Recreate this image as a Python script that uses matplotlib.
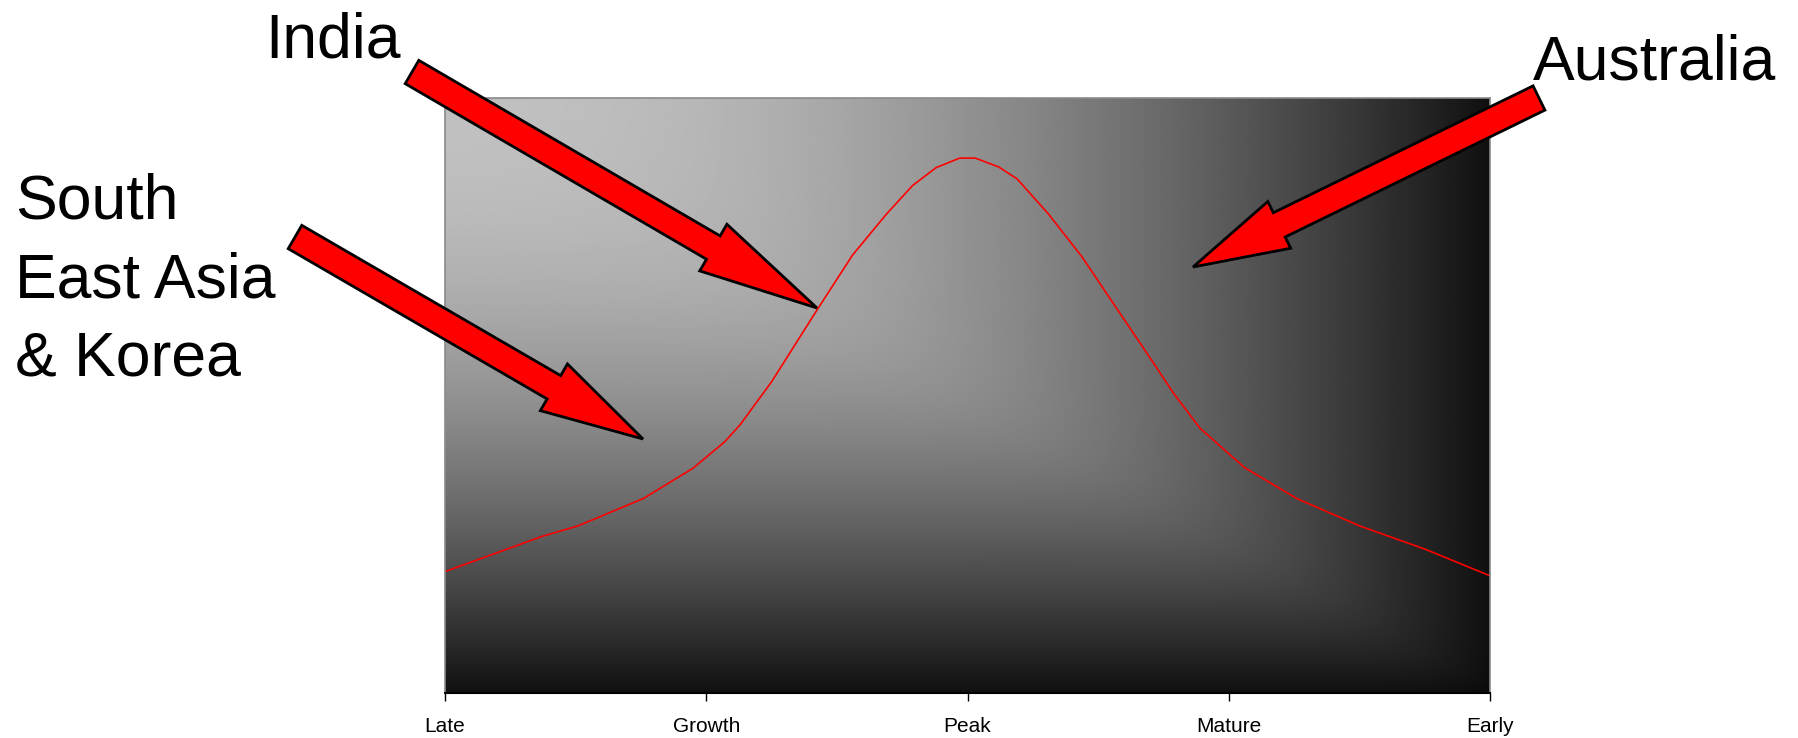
import numpy as np
import matplotlib.pyplot as plt
from matplotlib.patches import FancyArrow

plt.rcParams['font.family'] = ['Liberation Sans', 'DejaVu Sans']

# categories on the x axis
stages = ['Late', 'Growth', 'Peak', 'Mature', 'Early']

# red curve (x in stage units, y on a 0-100 scale)
curve_x = [0.00, 0.37, 0.51, 0.76, 0.95, 1.07, 1.13, 1.25, 1.42, 1.56, 1.69,
           1.79, 1.88, 1.97, 2.03, 2.12, 2.19, 2.31, 2.44, 2.57, 2.69, 2.79,
           2.89, 3.06, 3.26, 3.50, 3.75, 4.00]
curve_y = [20.4, 26.3, 28.1, 32.7, 37.8, 42.2, 45.1, 52.3, 64.1, 73.6, 80.5,
           85.3, 88.3, 89.9, 89.9, 88.4, 86.4, 80.5, 73.2, 64.7, 56.9, 50.3,
           44.5, 37.9, 32.7, 28.1, 24.2, 19.7]

labels = ['India', 'Australia', 'South\nEast Asia\n& Korea']

W, H = 1798, 738
fig = plt.figure(figsize=(W / 100, H / 100), dpi=100)

ax = fig.add_axes([445 / W, 1 - 693 / H, 1045 / W, 595 / H])

# grey background shading: light top-left, dark right and bottom
n = 400
u = np.linspace(0, 1, n)
uu, vv = np.meshgrid(u, u)
hor = 0.76 - 0.71 * uu ** 1.8
ver = 0.76 - 0.71 * vv ** 1.8
k = 0.03
shade = -k * np.log(np.exp(-hor / k) + np.exp(-ver / k)) + k * 0.5
ax.imshow(shade, extent=(0, 4, 0, 100), origin='upper', aspect='auto',
          cmap='gray', vmin=0, vmax=1, zorder=0, interpolation='bilinear')

ax.plot(curve_x, curve_y, color='red', lw=1.2, zorder=2)

ax.set_xlim(0, 4)
ax.set_ylim(0, 100)
ax.set_xticks(range(len(stages)))
ax.set_xticklabels(stages, fontsize=15)
ax.set_yticks([])
ax.tick_params(axis='x', direction='out', length=6, width=1, pad=11, color='black')
for side in ['left', 'top', 'right']:
    ax.spines[side].set_color('#8a8a8a')
    ax.spines[side].set_linewidth(1.2)
ax.spines['bottom'].set_color('black')
ax.spines['bottom'].set_linewidth(1.5)

# overlay in pixel units for the callout arrows and labels
ov = fig.add_axes([0, 0, 1, 1], zorder=5)
ov.set_xlim(0, W)
ov.set_ylim(H, 0)
ov.axis('off')
ov.patch.set_alpha(0)

arrows = [
    ((412, 72), (817, 308), 27, 54, 120),
    ((295, 237), (643, 439), 27, 54, 103),
    ((1539, 98), (1193, 267), 27, 52, 96),
]
for (x0, y0), (x1, y1), w, hw, hl in arrows:
    ov.add_patch(FancyArrow(x0, y0, x1 - x0, y1 - y0, width=w, head_width=hw,
                            head_length=hl, length_includes_head=True,
                            facecolor='red', edgecolor='black', lw=2,
                            joinstyle='miter'))

ov.text(265, 58, labels[0], fontsize=45, va='baseline', ha='left')
ov.text(1533, 80, labels[1], fontsize=45, va='baseline', ha='left')
ov.text(15, 376, labels[2], fontsize=45, va='baseline', ha='left',
        linespacing=1.43)

fig.savefig('out.png', dpi=100, facecolor='white')
